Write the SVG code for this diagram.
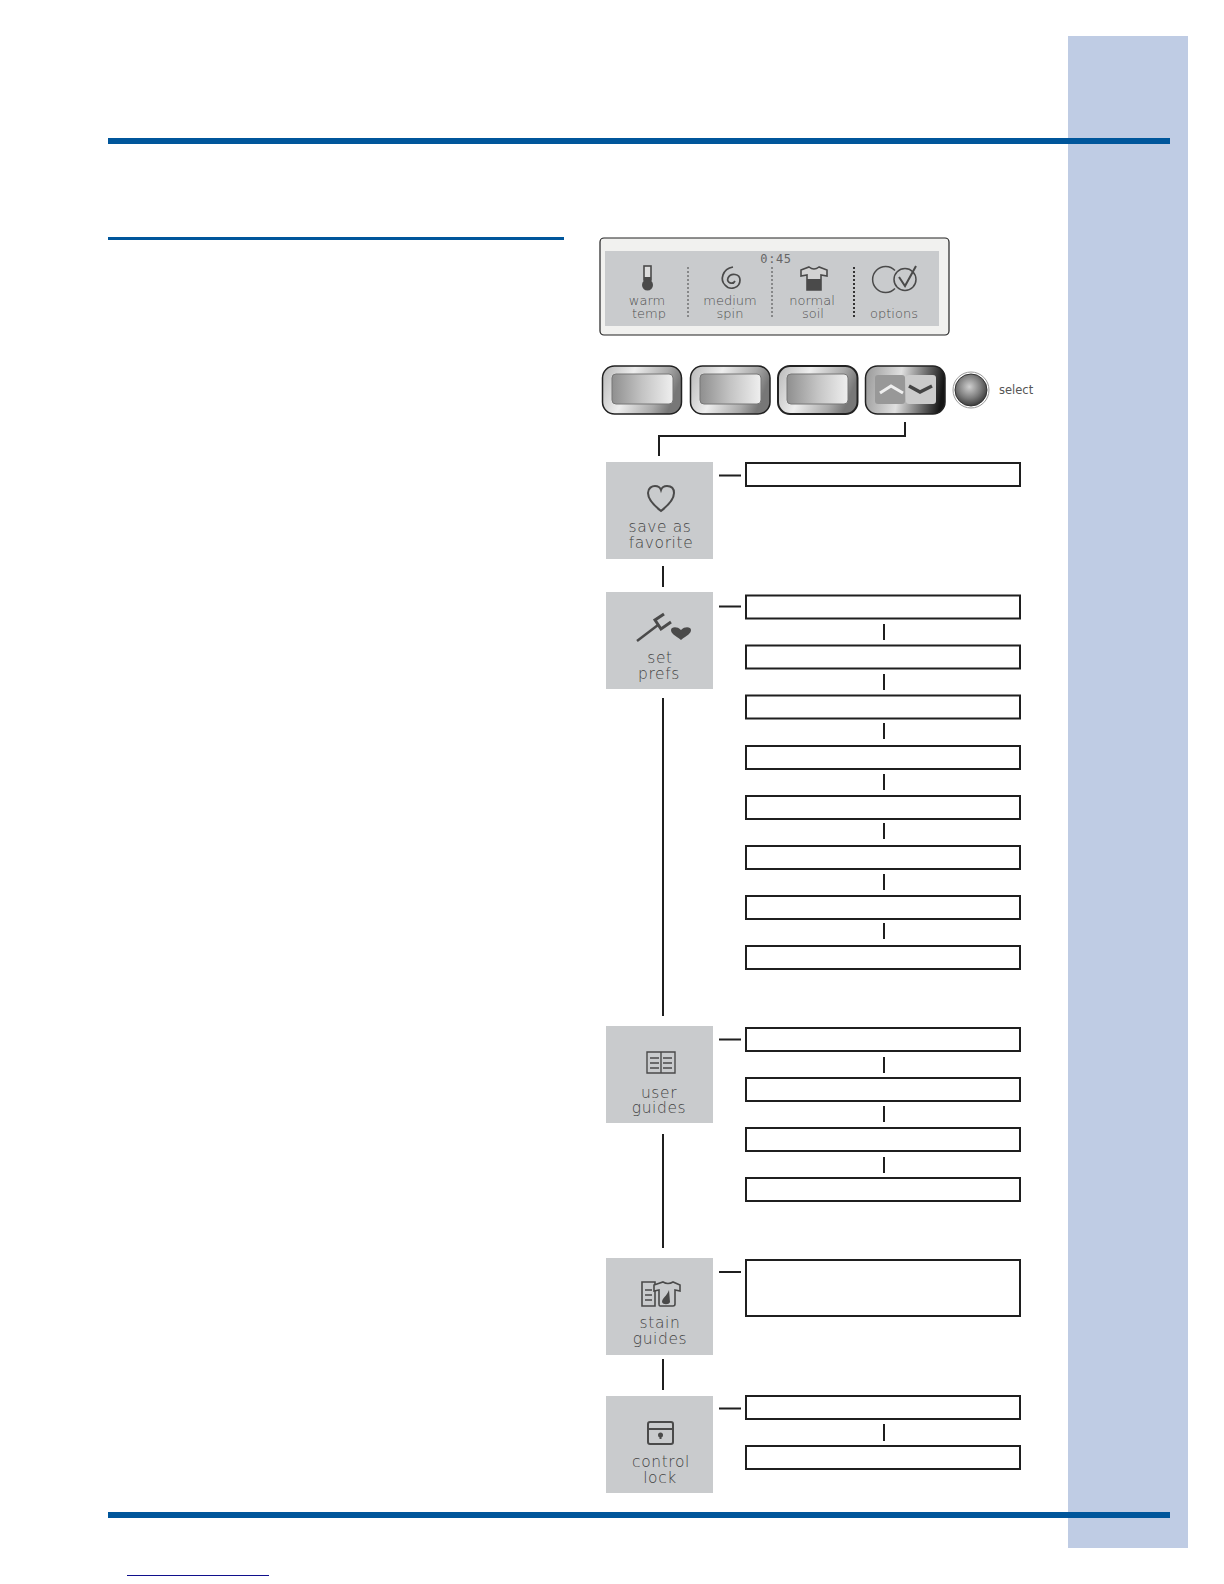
<svg xmlns="http://www.w3.org/2000/svg" width="1224" height="1584" viewBox="0 0 1224 1584">
<style>
.bx{fill:#fff;stroke:#1f1f1f;stroke-width:2}
.n{fill:#c9cbcd}
.c{fill:none;stroke:#1f1f1f;stroke-width:2}
.t{font-family:"DejaVu Sans",sans-serif;font-size:13px;fill:#505050;text-anchor:middle;font-weight:200}
.l{font-family:"DejaVu Sans",sans-serif;font-size:15.5px;fill:#444;text-anchor:middle;font-weight:200;letter-spacing:.6px}
.ic{fill:none;stroke:#4a4a4a;stroke-width:2}
.f{fill:#4a4a4a}
.o{fill:url(#fr);stroke:#222;stroke-width:1.5}
.i{fill:url(#inr);stroke:#777;stroke-width:1}
</style>
<defs>
<linearGradient id="fr" x1="0" x2="1" y1="0" y2=".25"><stop offset="0" stop-color="#b8b8b8"/><stop offset=".4" stop-color="#eeeeee"/><stop offset=".8" stop-color="#aaa"/><stop offset="1" stop-color="#777"/></linearGradient>
<linearGradient id="fr4" x1="0" x2="1" y1=".1" y2=".2"><stop offset="0" stop-color="#999"/><stop offset=".45" stop-color="#e0e0e0"/><stop offset=".78" stop-color="#666"/><stop offset="1" stop-color="#151515"/></linearGradient>
<linearGradient id="inr" x1="0" x2="1" y1="0" y2="0"><stop offset="0" stop-color="#8f8f8f"/><stop offset=".5" stop-color="#c4c4c4"/><stop offset="1" stop-color="#efefef"/></linearGradient>
<radialGradient id="ball" cx=".45" cy=".4" r=".6"><stop offset="0" stop-color="#cfcfcf"/><stop offset=".6" stop-color="#7c7c7c"/><stop offset="1" stop-color="#3c3c3c"/></radialGradient>
</defs>
<g id="page">
<rect x="1068" y="36" width="120" height="1512" fill="#bfcce4"/>
<rect x="108" y="138" width="1062" height="6" fill="#00569b"/>
<rect x="108" y="1512" width="1062" height="6" fill="#00569b"/>
<rect x="108" y="237" width="456" height="3" fill="#00569b"/>
<rect x="127" y="1575" width="142" height="1" fill="#10108c"/>
</g>
<g id="display">
<rect x="600" y="238" width="349" height="97" rx="4" fill="#f1f1ef" stroke="#222" stroke-width="1.200"/>
<rect x="605" y="251" width="334" height="75" fill="#c9cbcd"/>
<text x="776" y="263" font-family="DejaVu Sans Mono,monospace" font-size="12" fill="#666" text-anchor="middle" letter-spacing=".6">0:45</text>
<path d="M688 267V318M772 267V318" stroke="#444" stroke-width="1" stroke-dasharray="2 2" fill="none"/>
<path d="M854 267V318" stroke="#333" stroke-width="2" stroke-dasharray="2 2" fill="none"/>
<rect x="644" y="266" width="7" height="14" fill="#dcdcdc" stroke="#4a4a4a" stroke-width="1.600"/>
<rect x="644" y="277" width="7" height="6" class="f"/>
<circle cx="647.500" cy="285" r="5.500" class="f"/>
<path d="M733 267C722 269 720 280 725 285C730 291 740 288 740 280C740 274 731 272 728 278C726 283 733 285 735 281" fill="none" stroke="#4a4a4a" stroke-width="1.700"/>
<path d="M801 270L809 267Q814 271 819 267L827 270V276L821 275V290H807V275L801 276Z" fill="#d3d3d3" stroke="#4a4a4a" stroke-width="1.600"/>
<path d="M807 279H821V290H807Z" class="f"/>
<path d="M895 270.500A13 13 0 1 0 895 288.500" class="ic" style="stroke-width:1.500"/>
<circle cx="905" cy="279.500" r="11" class="ic" style="stroke-width:1.500"/>
<path d="M899 277L905 286L916 266" class="ic"/>
<text class="t" x="647" y="305">warm</text>
<text class="t" x="649" y="318">temp</text>
<text class="t" x="730" y="305">medium</text>
<text class="t" x="730" y="318">spin</text>
<text class="t" x="812" y="305">normal</text>
<text class="t" x="813" y="318">soil</text>
<text class="t" x="894" y="318">options</text>
</g>
<g id="buttons">
<g id="button1"><rect class="o" x="602.500" y="366" width="79" height="48" rx="12"/><rect class="i" x="612" y="374" width="61" height="30" rx="4"/></g>
<g id="button2"><rect class="o" x="690.500" y="366" width="79.500" height="48" rx="12"/><rect class="i" x="700" y="374" width="61" height="30" rx="4"/></g>
<g id="button3"><rect class="o" style="stroke-width:2" x="778" y="366" width="79.500" height="48" rx="12"/><rect class="i" x="787" y="374" width="61" height="30" rx="4"/></g>
<g id="button4"><rect x="865.500" y="366" width="79.500" height="48" rx="12" fill="url(#fr4)" stroke="#222" stroke-width="1.500"/>
<rect x="875" y="375" width="30" height="29" rx="3" fill="#989898"/><rect x="906" y="375" width="30" height="29" rx="3" fill="#cbcbcb"/>
<path d="M880 393L891 386L903 393" fill="none" stroke="#efefef" stroke-width="3"/><path d="M909 386L920 392L932 386" fill="none" stroke="#444" stroke-width="3.500"/></g>
<g id="select"><circle cx="971" cy="390" r="18" fill="#fff" stroke="#999" stroke-width="1"/><circle cx="971" cy="390" r="16" fill="url(#ball)" stroke="#333"/>
<text x="999" y="394" font-family="DejaVu Sans,sans-serif" font-size="11.500" fill="#555">select</text></g>
</g>
<g id="connectors" class="c">
<path d="M905 422V436H659V456"/>
<path d="M719 475.500H741M719 606.500H741M719 1039.500H741M719 1272H741M719 1408.500H741"/>
<path d="M663 566V587M663 698V1016M663 1134V1248M663 1359V1390"/>
<path d="M884 624V640M884 674V690M884 723V739M884 774V790M884 823V839M884 874V890M884 923V939M884 1057V1073M884 1106V1122M884 1157V1173M884 1424V1441"/>
</g>
<g id="node-save"><rect class="n" x="606" y="462" width="107" height="97"/>
<path d="M661 511C652 504 648 499 648 493C648 488 652 486 655 486C658 486 660 487 661 490C662 487 665 486 667 486C671 486 674 488 674 493C674 499 670 504 661 511Z" class="ic"/>
<text class="l" x="660" y="532">save as</text><text class="l" x="661" y="548">favorite</text></g>
<g id="node-prefs"><rect class="n" x="606" y="592" width="107" height="97"/>
<path d="M637 641L658 625" stroke="#4a4a4a" stroke-width="2.500" fill="none"/><path d="M664 614L655 620L661 629L671 622" class="ic" style="stroke-width:3"/>
<path d="M681 640C675 635 671 634 671 630C671 627 677 626 681 630C685 626 691 627 691 630C691 634 687 635 681 640Z" class="f"/>
<text class="l" x="660" y="663">set</text><text class="l" x="659" y="679">prefs</text></g>
<g id="node-user"><rect class="n" x="606" y="1026" width="107" height="97"/>
<path d="M647 1052H675V1073H647ZM661 1052V1073M650 1058H659M650 1063H659M650 1068H659M663 1058H672M663 1063H672M663 1068H672" fill="none" stroke="#4a4a4a" stroke-width="1.400"/>
<text class="l" x="659" y="1098">user</text><text class="l" x="659" y="1113">guides</text></g>
<g id="node-stain"><rect class="n" x="606" y="1258" width="107" height="97"/>
<path d="M642 1282H655V1306H642ZM645 1290H652M645 1295H652M645 1300H652" fill="none" stroke="#4a4a4a" stroke-width="1.600"/>
<path d="M654 1285L663 1282Q668 1285 673 1282L680 1285V1291L675 1290V1304Q675 1306 673 1306H660Q659 1306 659 1304V1290L654 1291Z" fill="#c9cbcd" stroke="#4a4a4a" stroke-width="1.600"/>
<path d="M669 1290C667 1296 662 1298 662 1302C663 1305 669 1305 670 1302Z" class="f"/>
<text class="l" x="660" y="1328">stain</text><text class="l" x="660" y="1344">guides</text></g>
<g id="node-lock"><rect class="n" x="606" y="1396" width="107" height="97"/>
<rect x="648" y="1422" width="25" height="22" rx="2" class="ic"/><path d="M648 1429H673" class="ic"/>
<circle cx="660.500" cy="1435" r="2.500" class="f"/><rect x="659.500" y="1435" width="2" height="4" class="f"/>
<text class="l" x="661" y="1467">control</text><text class="l" x="660" y="1483">lock</text></g>
<g id="boxes">
<rect class="bx" x="746" y="463" width="274" height="23"/>
<rect class="bx" x="746" y="595.500" width="274" height="23"/>
<rect class="bx" x="746" y="645.500" width="274" height="23"/>
<rect class="bx" x="746" y="695.500" width="274" height="23"/>
<rect class="bx" x="746" y="746" width="274" height="23"/>
<rect class="bx" x="746" y="796" width="274" height="23"/>
<rect class="bx" x="746" y="846" width="274" height="23"/>
<rect class="bx" x="746" y="896" width="274" height="23"/>
<rect class="bx" x="746" y="946" width="274" height="23"/>
<rect class="bx" x="746" y="1028" width="274" height="23"/>
<rect class="bx" x="746" y="1078" width="274" height="23"/>
<rect class="bx" x="746" y="1128" width="274" height="23"/>
<rect class="bx" x="746" y="1178" width="274" height="23"/>
<rect class="bx" x="746" y="1260" width="274" height="56"/>
<rect class="bx" x="746" y="1396" width="274" height="23"/>
<rect class="bx" x="746" y="1446" width="274" height="23"/>
</g>
</svg>
